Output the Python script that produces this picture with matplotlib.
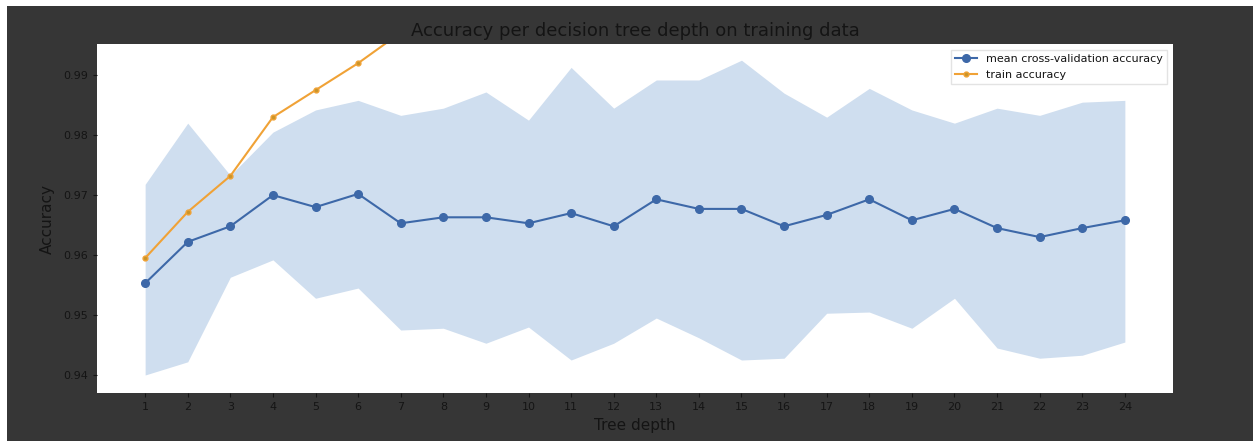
import numpy as np
import matplotlib
matplotlib.use("Agg")
import matplotlib.pyplot as plt
from matplotlib.patches import Rectangle

depth = list(range(1, 25))

cv_mean = [0.9553, 0.9622, 0.9648, 0.9700, 0.9680, 0.9702, 0.9653, 0.9663,
           0.9663, 0.9653, 0.9670, 0.9648, 0.9693, 0.9677, 0.9677, 0.9648,
           0.9667, 0.9693, 0.9658, 0.9677, 0.9645, 0.9630, 0.9645, 0.9658]

cv_upper = [0.9718, 0.9820, 0.9733, 0.9805, 0.9842, 0.9858, 0.9833, 0.9845,
            0.9872, 0.9825, 0.9913, 0.9845, 0.9892, 0.9892, 0.9925, 0.9870,
            0.9830, 0.9878, 0.9842, 0.9820, 0.9845, 0.9833, 0.9855, 0.9858]

cv_lower = [0.9400, 0.9422, 0.9563, 0.9592, 0.9528, 0.9545, 0.9475, 0.9478,
            0.9453, 0.9480, 0.9425, 0.9453, 0.9495, 0.9462, 0.9425, 0.9428,
            0.9503, 0.9505, 0.9478, 0.9528, 0.9445, 0.9428, 0.9433, 0.9455]

train_acc = [0.9595, 0.9672, 0.9732, 0.9830, 0.9875, 0.9920, 0.9971, 0.9985,
             0.9995, 1.0, 1.0, 1.0, 1.0, 1.0, 1.0, 1.0,
             1.0, 1.0, 1.0, 1.0, 1.0, 1.0, 1.0, 1.0]

bg = "#363636"
txt = "#141414"

fig = plt.figure(figsize=(12.53, 4.41), dpi=100, facecolor="white")
# dark backdrop, leaving the thin white strip at top and left
fig.patches.append(Rectangle((7/1253, 0), 1, 1 - 6/441, transform=fig.transFigure,
                             facecolor=bg, edgecolor="none", zorder=-10))

ax = fig.add_axes([97/1253, 1 - 393/441, (1173 - 97)/1253, (393 - 44)/441])
ax.set_facecolor("white")

ax.fill_between(depth, cv_lower, cv_upper, color="#cfdeef", linewidth=0)
ax.plot(depth, cv_mean, "-o", color="#3d68a8", markersize=5.5, linewidth=1.5,
        label="mean cross-validation accuracy")
ax.plot(depth, train_acc, "-o", color="#f0a236", markersize=3.5, linewidth=1.5,
        markerfacecolor="#c9952a", markeredgecolor="#f0a236",
        label="train accuracy")

ax.set_xticks(depth)
ax.set_xlim(-0.13, 25.13)
ax.set_ylim(0.937, 0.9952)
ax.set_yticks([0.94, 0.95, 0.96, 0.97, 0.98, 0.99])

for s in ax.spines.values():
    s.set_visible(False)
ax.tick_params(colors=txt, labelsize=8, length=3)

ax.set_title("Accuracy per decision tree depth on training data", fontsize=13,
             color=txt, pad=6)
ax.set_xlabel("Tree depth", fontsize=11, color=txt, labelpad=4)
ax.set_ylabel("Accuracy", fontsize=11, color=txt, labelpad=6)

leg = ax.legend(loc="upper right", fontsize=8, frameon=True, fancybox=False,
                borderaxespad=0.5)
leg.get_frame().set_edgecolor("#dddddd")
for t in leg.get_texts():
    t.set_color(txt)

fig.savefig("out.png", dpi=100, facecolor=fig.get_facecolor())
